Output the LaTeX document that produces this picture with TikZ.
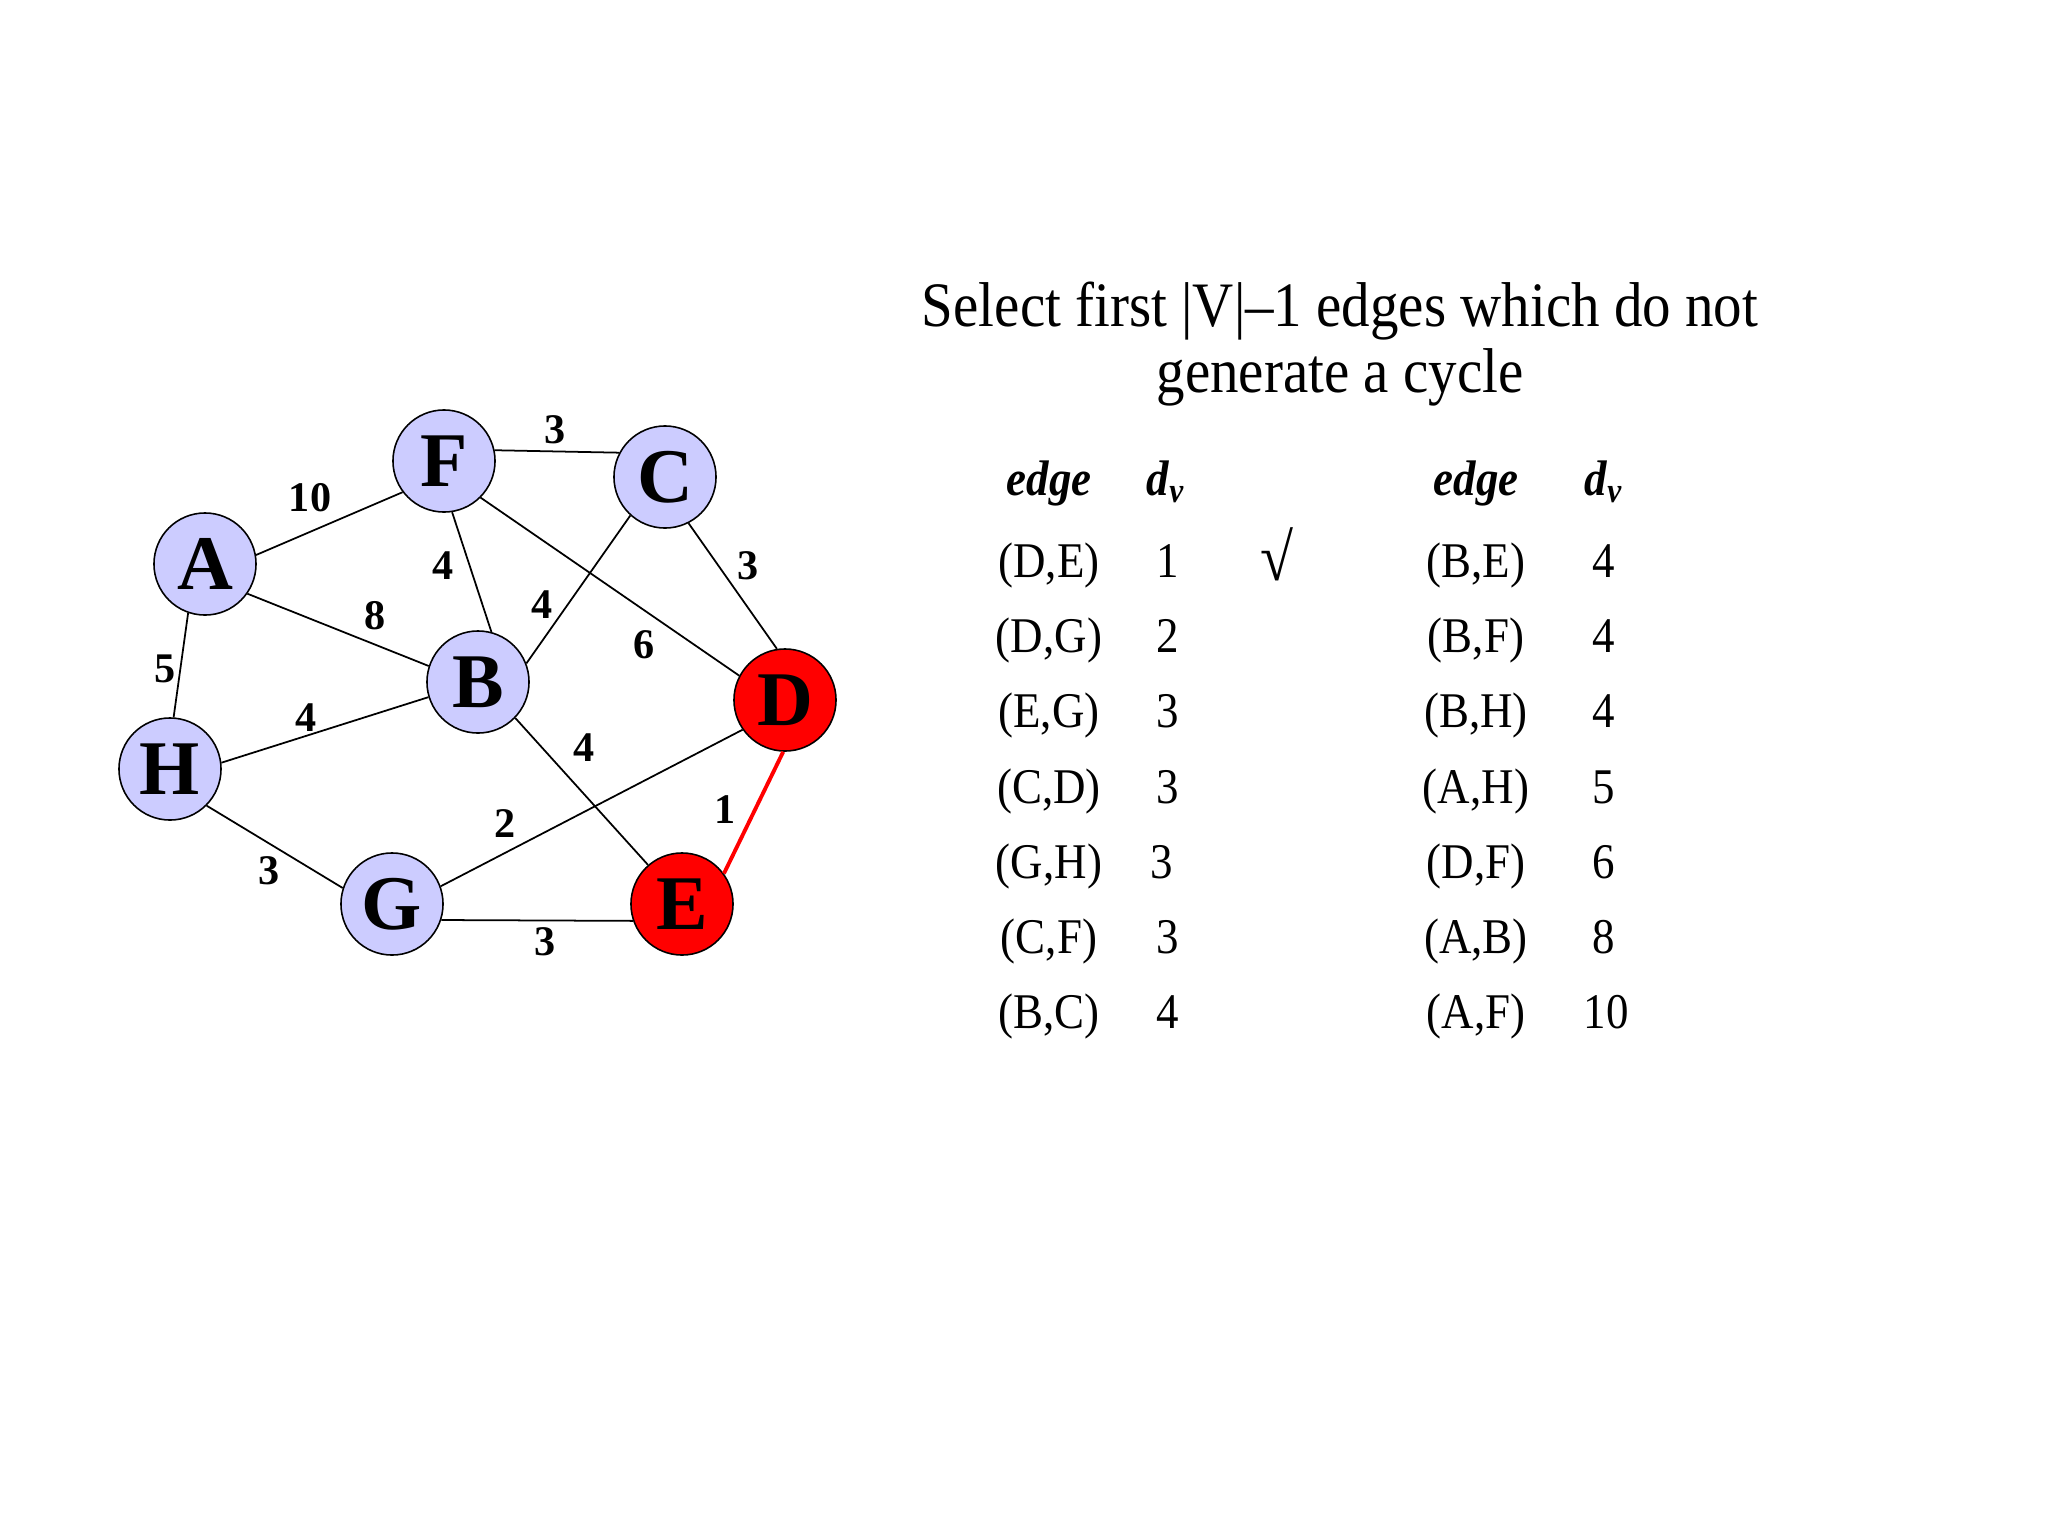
\documentclass[tikz,border=0pt]{standalone}
\usepackage{fontspec}
\setmainfont{Liberation Serif}
\newfontfamily\narrowfont[FakeStretch=0.9,Ligatures=TeX]{Liberation Serif}
\definecolor{lav}{RGB}{204,204,255}
\definecolor{nred}{RGB}{255,0,0}
\begin{document}
\begin{tikzpicture}[x=0.01cm,y=-0.01cm,
  vert/.style={circle,draw=black,line width=0.45pt,fill=lav,minimum size=1.02cm,inner sep=0pt,font=\fontsize{22}{26}\selectfont\bfseries},
  redv/.style={vert,fill=nred},
  edge/.style={draw=black,line width=0.5pt},
  redge/.style={draw=nred,line width=1.1pt},
  wt/.style={font=\fontsize{12}{14}\selectfont\bfseries,inner sep=0pt},
  tab/.style={font=\narrowfont\fontsize{14.2}{16}\selectfont,inner sep=0pt,anchor=base},
  hd/.style={font=\narrowfont\fontsize{14.2}{16}\selectfont\bfseries\itshape,inner sep=0pt,anchor=base}]
\useasboundingbox (0,0) rectangle (2048,1536);
\fill[white] (0,0) rectangle (2048,1536);
% vertices
\node[vert] (A) at (205,564) {A};
\node[vert] (F) at (444,461) {F};
\node[vert] (C) at (665,477) {C};
\node[vert] (B) at (478,682) {B};
\node[redv] (D) at (785,700) {D};
\node[vert] (H) at (170,769) {H};
\node[vert] (G) at (392,904) {G};
\node[redv] (E) at (682,904) {E};
% edges
\draw[edge] (A.10) -- (F.217);
\draw[edge] (A.325) -- (B.162);
\draw[edge] (A.251) -- (H.86);
\draw[edge] (F.12) -- (C.152);
\draw[edge] (F.279) -- (B.75);
\draw[edge] (F.315) -- (D.152);
\draw[edge] (C.228) -- (B.21);
\draw[edge] (C.297) -- (D.99);
\draw[edge] (B.197) -- (H.7);
\draw[edge] (B.316) -- (E.131);
\draw[edge] (D.215) -- (G.20);
\draw[redge] (D.268) -- (E.36);
\draw[edge] (H.315) -- (G.162);
\draw[edge] (G.342) -- (E.199);
% weights
\node[wt] (wFC) at (555,430) {3};
\node[wt] (wAF) at (310,498) {10};
\node[wt] (wFB) at (443,566) {4};
\node[wt] (wAB) at (375,616) {8};
\node[wt] (wCB) at (542,605) {4};
\node[wt] (wCD) at (748,566) {3};
\node[wt] (wFD) at (644,645) {6};
\node[wt] (wAH) at (165,669) {5};
\node[wt] (wHB) at (306,718) {4};
\node[wt] (wBE) at (584,748) {4};
\node[wt] (wDG) at (505,824) {2};
\node[wt] (wDE) at (725,810) {1};
\node[wt] (wHG) at (269,871) {3};
\node[wt] (wGE) at (545,942) {3};
% title
\node[font=\narrowfont\fontsize{18}{18.5}\selectfont,align=center,inner sep=0pt,anchor=base] (title) at (1340,392) {Select first |V|–1 edges which do not\\generate a cycle};
% table headers
\node[hd] (h1) at (1049,495) {edge};
\node[hd] (h2) at (1166,495) {d\textsubscript{v}};
\node[hd] (h3) at (1476,495) {edge};
\node[hd] (h4) at (1604,495) {d\textsubscript{v}};
% left column
\node[tab] (l1) at (1049,577) {(D,E)};
\node[tab] (l2) at (1049,652) {(D,G)};
\node[tab] (l3) at (1049,727) {(E,G)};
\node[tab] (l4) at (1049,803) {(C,D)};
\node[tab] (l5) at (1049,878) {(G,H)};
\node[tab] (l6) at (1049,953) {(C,F)};
\node[tab] (l7) at (1049,1028) {(B,C)};
\node[tab] (v1) at (1168,577) {1};
\node[tab] (v2) at (1168,652) {2};
\node[tab] (v3) at (1168,727) {3};
\node[tab] (v4) at (1168,803) {3};
\node[tab] (v5) at (1162,878) {3};
\node[tab] (v6) at (1168,953) {3};
\node[tab] (v7) at (1168,1028) {4};
\node[tab,font=\narrowfont\fontsize{19}{20}\selectfont] (chk) at (1277,580) {√};
% right column
\node[tab] (r1) at (1476,577) {(B,E)};
\node[tab] (r2) at (1476,652) {(B,F)};
\node[tab] (r3) at (1476,727) {(B,H)};
\node[tab] (r4) at (1476,803) {(A,H)};
\node[tab] (r5) at (1476,878) {(D,F)};
\node[tab] (r6) at (1476,953) {(A,B)};
\node[tab] (r7) at (1476,1028) {(A,F)};
\node[tab] (s1) at (1604,577) {4};
\node[tab] (s2) at (1604,652) {4};
\node[tab] (s3) at (1604,727) {4};
\node[tab] (s4) at (1604,803) {5};
\node[tab] (s5) at (1604,878) {6};
\node[tab] (s6) at (1604,953) {8};
\node[tab] (s7) at (1606,1028) {10};
\end{tikzpicture}
\end{document}
